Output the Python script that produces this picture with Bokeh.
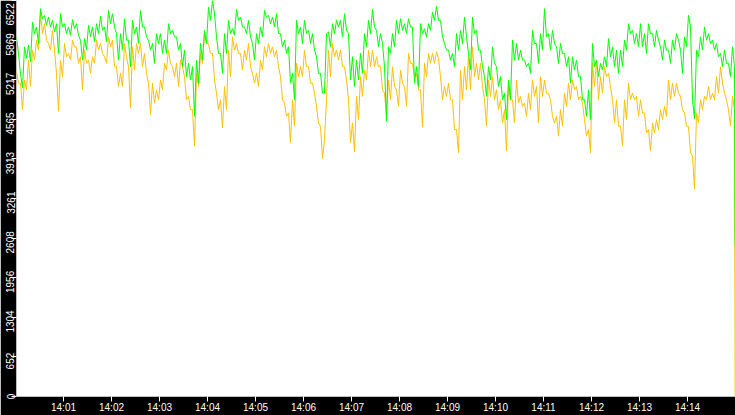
import pandas as pd
from bokeh.plotting import figure
from bokeh.models import Range1d, FixedTicker, DatetimeTickFormatter, ColumnDataSource
from bokeh.embed import file_html
from bokeh.resources import INLINE

# readings every 2.5 s from 14:00:01 (local high / low pairs);
# the last point is the drop at the very end of the record
start_time = "2024-01-01 14:00:01.25"
end_time = "2024-01-01 14:14:59.5"
x_end = "2024-01-01 14:15:00"
step_s = 2.5

green = [
    5922, 5650, 5323, 5078, 5759, 5568, 5786, 5514, 6168, 5977, 6086, 5814, 6386, 6222,
    6277, 6113, 6250, 6086, 6195, 6005, 6140, 5650, 6304, 6086, 6140, 5977, 6086, 5950,
    6206, 6059, 6140, 5950, 5868, 5541, 5895, 5705, 6113, 5923, 6086, 5841, 6140, 5977,
    6260, 6032, 6086, 5841, 6358, 6140, 6304, 6086, 5977, 5541,
    5977, 5705, 6222, 5868, 5868, 5432, 6195, 5977, 6086, 5814, 6358, 6086, 6086, 5923,
    5868, 5705, 5814, 5487, 5977, 5814, 5977, 5650, 5868, 5650, 6140, 5977, 6032, 5923,
    5923, 5705, 5814, 5432, 5705, 5268, 5487, 5214, 5432, 4615, 5541, 5160, 5814, 5541,
    6032, 5814, 6413, 6195, 6522, 6304, 5923, 5650, 5650, 5323,
    5977, 5650, 6195, 5977, 6059, 5950, 6375, 6195, 6250, 6086, 6086, 5977, 6195, 5923,
    5814, 5541, 5977, 5814, 6086, 5923, 6358, 6250, 6277, 6140, 6250, 6086, 6304, 5977,
    5977, 5759, 5868, 5650, 5759, 5160, 5323, 4887, 6195, 5977, 6086, 5814, 6195, 5977,
    6032, 5814, 5977, 5705, 5595, 5323, 5323, 4996, 4996, 5977,
    6005, 5759, 6140, 5977, 6195, 6086, 6195, 5923, 6304, 6032, 5977, 5214, 5595, 5105,
    5541, 5214, 5650, 5323, 5977, 5759, 6195, 5977, 6375, 6086, 6032, 5759, 5977, 5814,
    5432, 4533, 5759, 5650, 5977, 5759, 6195, 5977, 6222, 6032, 6140, 5977, 6222, 6086,
    6086, 5160, 5432, 5105, 6140, 5977, 6059, 5923, 6140, 6032,
    6331, 6195, 6424, 6195, 6195, 5923, 5814, 5705, 5705, 5541, 5650, 5432, 5977, 5705,
    6032, 5814, 6250, 5923, 5650, 5378, 6250, 5977, 6032, 5705, 5705, 5432, 5268, 4942,
    5432, 5214, 5759, 5487, 5432, 5105, 5268, 4887, 4996, 4560, 5214, 4887, 5868, 5541,
    5814, 5541, 5705, 5541, 5541, 5432, 5487, 5323, 6032, 5814,
    5814, 5487, 5977, 5705, 6386, 5923, 5977, 5705, 6032, 5814, 5759, 5487, 5814, 5650,
    5650, 5432, 5595, 5160, 5595, 5378, 5541, 5268, 5268, 4887, 4887, 4615, 5051, 4560,
    5814, 5432, 5541, 5268, 5487, 5378, 5595, 5432, 5895, 5595, 5759, 5432, 5705, 5323,
    5705, 5432, 5868, 5705, 6140, 5977, 6032, 5814, 5977, 5759,
    6140, 5759, 5977, 5650, 6140, 5977, 5977, 5759, 6032, 5868, 5759, 5541, 5868, 5705,
    5705, 5487, 5868, 5705, 5977, 5868, 5705, 5323, 5923, 5759, 6277, 6086, 4887, 4571,
    5705, 5595, 5923, 5705, 6086, 5868, 5977, 5814, 5868, 5705, 5814, 5595, 5650, 5432,
    5705, 5487, 5487, 5268, 5759, 5432,
    2470,
]

orange = [
    5350, 5160, 5160, 4724, 5214, 5051, 5541, 5105, 5705, 5541, 5868, 5705, 6331, 5977,
    6140, 5868, 5814, 5705, 6032, 5705, 5323, 4696, 5541, 5268, 5814, 5595, 5650, 5541,
    5868, 5759, 5759, 5487, 5595, 5051, 5705, 5487, 5541, 5323, 5595, 5487, 5868, 5705,
    5814, 5650, 5595, 5487, 5923, 5759, 5868, 5432, 5432, 5105,
    5323, 5105, 5814, 5595, 5432, 4751, 5759, 5378, 5814, 5650, 5814, 5432, 5650, 5323,
    5160, 4642, 5160, 4833, 5051, 4887, 5214, 5051, 5487, 5378, 5705, 5487, 5432, 5268,
    5487, 5105, 5541, 5432, 5268, 4887, 4942, 4724, 4724, 4124, 5323, 5105, 5650, 5487,
    5977, 5814, 5814, 5650, 5650, 5214, 4996, 4724, 4887, 4424,
    5105, 4724, 5705, 5268, 5923, 5705, 5814, 5650, 5650, 5378, 5705, 5541, 5814, 5432,
    5323, 5160, 5323, 5105, 5541, 5378, 5759, 5595, 5814, 5650, 5759, 5595, 5705, 5432,
    5268, 4887, 4833, 4615, 4669, 4179, 4887, 4451, 5487, 5268, 5432, 5268, 5705, 5432,
    5432, 5160, 5160, 4996, 4778, 4506, 4451, 3917, 4233, 4887,
    5705, 5268, 5814, 5595, 5705, 5541, 5705, 5432, 5432, 5214, 4887, 4179, 4506, 4026,
    4942, 4560, 5268, 4942, 5378, 5214, 5705, 5432, 5705, 5432, 5595, 5432, 5432, 5051,
    4996, 4615, 5214, 4887, 5432, 5105, 5051, 4778, 5378, 5160, 5105, 4778, 5650, 5487,
    5487, 5268, 5323, 5051, 5051, 4435, 5487, 5268, 5650, 5487,
    5650, 5487, 5677, 5568, 5268, 4887, 5105, 4942, 5160, 4887, 4887, 4397, 4397, 4015,
    5378, 4887, 5432, 5051, 5595, 5051, 5759, 5268, 5487, 5214, 5487, 5105, 4887, 4451,
    5214, 4942, 5268, 4887, 5051, 4724, 4887, 4506, 4724, 4042, 5160, 4887, 4887, 4506,
    5214, 4833, 4942, 4778, 4833, 4615, 4996, 4724, 5214, 4942,
    5105, 4506, 5268, 4942, 5214, 4996, 4996, 4887, 4615, 4506, 4615, 4288, 4724, 4451,
    4996, 4778, 5160, 4887, 5214, 5051, 5105, 4887, 4942, 4833, 4560, 4288, 4397, 4015,
    5487, 5105, 5541, 4887, 5268, 4996, 5432, 5268, 5323, 5105, 4887, 4506, 4887, 4451,
    4451, 4124, 4887, 4560, 5160, 4887, 4996, 4887, 4942, 4615,
    4887, 4669, 4669, 4342, 4397, 4042, 4506, 4342, 4560, 4397, 4724, 4560, 4778, 4615,
    5214, 4887, 5160, 4942, 5160, 4996, 4942, 4724, 4669, 4451, 4451, 4015, 3961, 3416,
    4669, 4506, 4887, 4724, 4942, 4887, 5105, 4887, 4996, 4887, 5268, 4996, 5432, 5160,
    4996, 4887, 4724, 4451, 4942, 4724,
    0,
]

y_ticks = [0, 652, 1304, 1956, 2608, 3261, 3913, 4565, 5217, 5869, 6522]
y_tick_labels = ["0", "652", "1304", "1956", "2608", "3261", "3913", "4565", "5217",
                 "5869", "6522"]
x_tick_labels = ["14:01", "14:02", "14:03", "14:04", "14:05", "14:06", "14:07",
                 "14:08", "14:09", "14:10", "14:11", "14:12", "14:13", "14:14"]

t0 = pd.Timestamp(start_time)
times = [t0 + pd.Timedelta(seconds=step_s * i) for i in range(len(green) - 1)]
times.append(pd.Timestamp(end_time))
src = ColumnDataSource(dict(t=times, green=green, orange=orange))

p = figure(width=735, height=415, x_axis_type="datetime",
           x_range=Range1d(t0, pd.Timestamp(x_end)), y_range=Range1d(0, 6522),
           output_backend="svg", toolbar_location=None,
           min_border_left=16, min_border_top=0, min_border_right=0, min_border_bottom=0)
p.border_fill_color = "black"
p.background_fill_color = "white"
p.outline_line_color = None
p.xgrid.visible = False
p.ygrid.visible = False

p.line("t", "orange", source=src, line_color="#ffc000", line_width=1)
p.line("t", "green", source=src, line_color="#00ff00", line_width=1)

# x axis: one tick per minute
day = t0.strftime("%Y-%m-%d")
x_ticks = [pd.Timestamp(f"{day} {lab}").value // 10**6 for lab in x_tick_labels]
p.xaxis.ticker = FixedTicker(ticks=x_ticks)
fmt = "%H:%M"
p.xaxis.formatter = DatetimeTickFormatter(seconds=fmt, minsec=fmt, minutes=fmt,
                                          hourmin=fmt, hours=fmt)
p.xaxis.major_label_standoff = 0

# y axis: vertical labels sitting just below their tick (padding on the top end)
p.yaxis.ticker = FixedTicker(ticks=y_ticks)
pad = "\u00a0"
overrides = {}
for v, lab in zip(y_ticks, y_tick_labels):
    if v == 0:
        overrides[v] = lab
    elif v == y_ticks[-1]:
        overrides[v] = lab + pad
    else:
        overrides[v] = lab + pad * 3
p.yaxis.major_label_overrides = overrides
p.yaxis.major_label_orientation = "vertical"
p.yaxis.major_label_standoff = -5

for ax in (p.xaxis, p.yaxis):
    ax.major_label_text_color = "white"
    ax.major_label_text_font = "Liberation Sans"
    ax.major_label_text_font_size = "10px"
    ax.major_tick_line_color = "white"
    ax.major_tick_out = 5
    ax.major_tick_in = 0
    ax.minor_tick_line_color = None
    ax.axis_line_color = None

open("out.html", "w").write(file_html(p, INLINE))
